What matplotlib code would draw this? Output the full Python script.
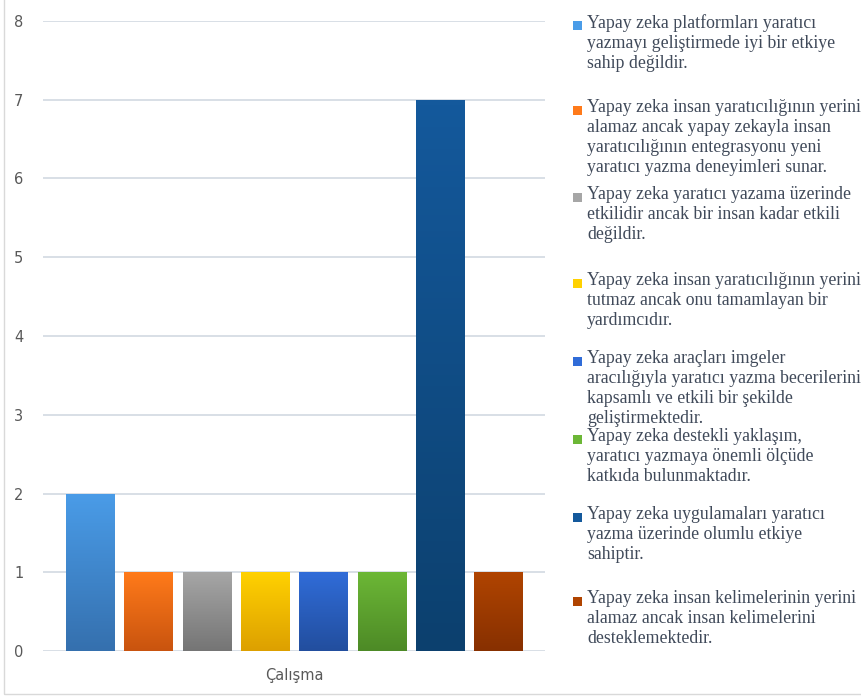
import matplotlib.pyplot as plt
import numpy as np
from matplotlib.colors import LinearSegmentedColormap
from matplotlib.patches import Rectangle

category = "Çalışma"
labels = [
    "Yapay zeka platformları yaratıcı\nyazmayı geliştirmede iyi bir etkiye\nsahip değildir.",
    "Yapay zeka insan yaratıcılığının yerini\nalamaz ancak yapay zekayla insan\nyaratıcılığının entegrasyonu yeni\nyaratıcı yazma deneyimleri sunar.",
    "Yapay zeka yaratıcı yazama üzerinde\netkilidir ancak bir insan kadar etkili\ndeğildir.",
    "Yapay zeka insan yaratıcılığının yerini\ntutmaz ancak onu tamamlayan bir\nyardımcıdır.",
    "Yapay zeka araçları imgeler\naracılığıyla yaratıcı yazma becerilerini\nkapsamlı ve etkili bir şekilde\ngeliştirmektedir.",
    "Yapay zeka destekli yaklaşım,\nyaratıcı yazmaya önemli ölçüde\nkatkıda bulunmaktadır.",
    "Yapay zeka uygulamaları yaratıcı\nyazma üzerinde olumlu etkiye\nsahiptir.",
    "Yapay zeka insan kelimelerinin yerini\nalamaz ancak insan kelimelerini\ndesteklemektedir.",
]
values = [2, 1, 1, 1, 1, 1, 7, 1]
top_colors = ["#4A9CE8", "#FF7A1A", "#A6A6A6", "#FFD100", "#306CD8", "#6CB736", "#14599C", "#B04400"]
bottom_colors = ["#3570AE", "#C9540F", "#757575", "#DDA000", "#224E9E", "#4D8A26", "#0C406E", "#873000"]

# legend layout (figure pixels from top)
legend_y = [22, 107, 194, 280, 358, 436, 514, 598]

W, H = 862, 697
fig = plt.figure(figsize=(W / 100, H / 100), dpi=100)
ax = fig.add_axes([43 / W, 46 / H, 502 / W, 630 / H])

x = np.arange(len(values))
bars = ax.bar(x, values, width=0.823, color=top_colors, zorder=3)
for b, c1, c2 in zip(bars, top_colors, bottom_colors):
    cmap = LinearSegmentedColormap.from_list("g", [c2, c1])
    grad = np.linspace(0, 1, 100).reshape(-1, 1)
    bx, by = b.get_x(), b.get_y()
    im = ax.imshow(grad, cmap=cmap, origin="lower", aspect="auto",
                   extent=[bx, bx + b.get_width(), by, by + b.get_height()], zorder=4)
    im.set_clip_path(b)

ax.set_xlim(-0.806, 7.80)
ax.set_ylim(0, 8)
ax.set_yticks(range(0, 9))
ax.set_xticks([3.5])
ax.set_xticklabels([category])
ax.grid(axis="y", color="#D6DCE4", linewidth=1.3, zorder=0)
for s in ax.spines.values():
    s.set_visible(False)
ax.tick_params(length=0, labelsize=10.5, labelcolor="#595959")
ax.tick_params(axis="y", pad=14)
ax.tick_params(axis="x", pad=12)

# legend
for lab, c1, c2, yp in zip(labels, top_colors, bottom_colors, legend_y):
    fig.patches.append(Rectangle((573 / W, 1 - (yp + 8) / H), 9 / W, 9 / H,
                                 transform=fig.transFigure, facecolor=c1, edgecolor="none"))
    fig.text(587 / W, 1 - (yp - 8) / H, lab, family="Liberation Serif", fontsize=12.8,
             color="#404A5A", va="top", ha="left", linespacing=1.24)

# chart border
fig.patches.append(Rectangle((4 / W, 3 / H), 900 / W, 700 / H, transform=fig.transFigure,
                             facecolor="none", edgecolor="#D9D9D9", linewidth=1))

fig.savefig("out.png", dpi=100)
